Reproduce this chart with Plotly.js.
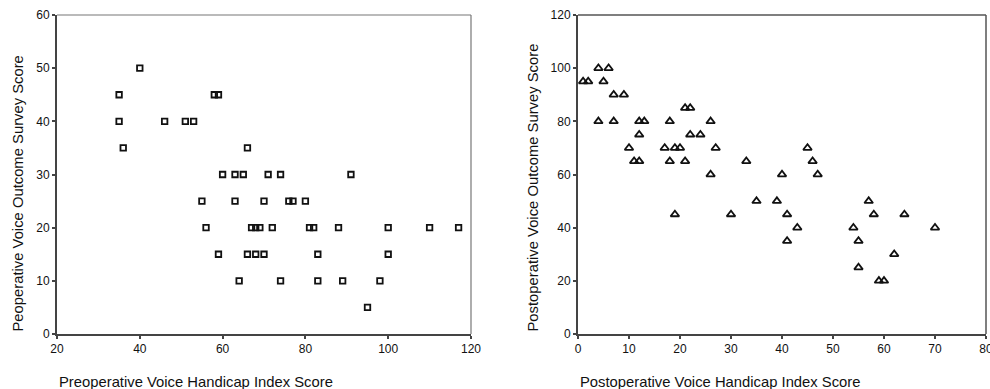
<!DOCTYPE html>
<html>
<head>
<meta charset="utf-8">
<script src="https://cdn.plot.ly/plotly-3.0.1.min.js"></script>
<style>
html,body{margin:0;padding:0;background:#fff;overflow:hidden;}
#chart{width:990px;height:389px;}
</style>
</head>
<body>
<div id="chart"></div>
<script>
// Preoperative: VHI (x) vs VOS (y)
const preVHI = [35,58,59, 35,46,51,53, 36,66, 40,
  60,63,65,71,74,91, 55,63,70,76,77,80,
  56,67,68,69,72,81,82,88,100,110,117,
  59,66,68,70,83,100, 64,74,83,89,98, 95];
const preVOS = [45,45,45, 40,40,40,40, 35,35, 50,
  30,30,30,30,30,30, 25,25,25,25,25,25,
  20,20,20,20,20,20,20,20,20,20,20,
  15,15,15,15,15,15, 10,10,10,10,10, 5];

// Postoperative: VHI (x) vs VOS (y)
const postVHI = [4,6, 1,2,5, 7,9, 21,22, 4,7,12,13,18,26,
  12,22,24, 10,17,19,20,27,45, 11,12,18,21,33,46,
  26,40,47, 35,39,57, 19,30,41,58,64, 43,54,70,
  41,55, 62, 55, 59,60];
const postVOS = [100,100, 95,95,95, 90,90, 85,85, 80,80,80,80,80,80,
  75,75,75, 70,70,70,70,70,70, 65,65,65,65,65,65,
  60,60,60, 50,50,50, 45,45,45,45,45, 40,40,40,
  35,35, 30, 25, 20,20];

const preXTicks = [20,40,60,80,100,120];
const preYTicks = [0,10,20,30,40,50,60];
const postXTicks = [0,10,20,30,40,50,60,70,80];
const postYTicks = [0,20,40,60,80,100,120];

const titles = {
  preX: "Preoperative Voice Handicap Index Score",
  preY: "Peoperative Voice Outcome Survey Score",
  postX: "Postoperative Voice Handicap Index Score",
  postY: "Postoperative Voice Outcome Survey Score"
};

const W = 990, H = 389;
const px = v => v / W;
const py = v => (H - v) / H;

const L1 = 57, R1 = 471, L2 = 578, R2 = 986, T = 15, B = 334;

const tickFont = {family: "Arial, Liberation Sans, sans-serif", size: 12, color: "#111"};
const titleFont = {family: "Arial, Liberation Sans, sans-serif", size: 14.8, color: "#111"};

const axisCommon = {
  showgrid: false, zeroline: false, showline: true, linecolor: "#444", linewidth: 2,
  ticks: "outside", ticklen: 3, tickwidth: 2, tickcolor: "#444",
  tickfont: tickFont, fixedrange: true, ticklabeloverflow: "allow"
};

const traces = [
  {x: preVHI, y: preVOS, type: "scatter", mode: "markers", xaxis: "x", yaxis: "y",
   marker: {symbol: "square-open", size: 5.5, color: "#111", line: {width: 1.8, color: "#111"}},
   hoverinfo: "x+y"},
  {x: postVHI, y: postVOS, type: "scatter", mode: "markers", xaxis: "x2", yaxis: "y2",
   marker: {symbol: "triangle-up-open", size: 7.5, color: "#111", line: {width: 1.8, color: "#111"}},
   hoverinfo: "x+y"}
];

const layout = {
  width: W, height: H,
  margin: {l: 0, r: 0, t: 0, b: 0},
  paper_bgcolor: "#fff", plot_bgcolor: "#fff",
  showlegend: false,
  xaxis: Object.assign({}, axisCommon, {domain: [px(L1), px(R1)], range: [20, 120], tickvals: preXTicks, anchor: "y"}),
  yaxis: Object.assign({}, axisCommon, {domain: [py(B), py(T)], range: [0, 60], tickvals: preYTicks, anchor: "x"}),
  xaxis2: Object.assign({}, axisCommon, {domain: [px(L2), px(R2)], range: [0, 80], tickvals: postXTicks, anchor: "y2"}),
  yaxis2: Object.assign({}, axisCommon, {domain: [py(B), py(T)], range: [0, 120], tickvals: postYTicks, anchor: "x2"}),
  shapes: [
    {type: "line", xref: "paper", yref: "paper", x0: px(L1), x1: px(R1), y0: py(T), y1: py(T), line: {color: "#777", width: 1.2}},
    {type: "line", xref: "paper", yref: "paper", x0: px(R1), x1: px(R1), y0: py(T), y1: py(B), line: {color: "#777", width: 1.2}},
    {type: "line", xref: "paper", yref: "paper", x0: px(L2), x1: px(R2), y0: py(T), y1: py(T), line: {color: "#555", width: 1.5}},
    {type: "line", xref: "paper", yref: "paper", x0: px(R2), x1: px(R2), y0: py(T), y1: py(B), line: {color: "#555", width: 1.5}}
  ],
  annotations: [
    {text: titles.preX, xref: "paper", yref: "paper", x: px(L1), y: py(382), xanchor: "left", yanchor: "middle", showarrow: false, font: titleFont},
    {text: titles.postX, xref: "paper", yref: "paper", x: px(L2), y: py(382), xanchor: "left", yanchor: "middle", showarrow: false, font: titleFont},
    {text: titles.preY, xref: "paper", yref: "paper", x: px(17.5), y: py(B), xanchor: "center", yanchor: "bottom", textangle: -90, showarrow: false, font: titleFont},
    {text: titles.postY, xref: "paper", yref: "paper", x: px(532.5), y: py(B), xanchor: "center", yanchor: "bottom", textangle: -90, showarrow: false, font: titleFont}
  ]
};

Plotly.newPlot("chart", traces, layout, {displayModeBar: false, staticPlot: true});
</script>
</body>
</html>
